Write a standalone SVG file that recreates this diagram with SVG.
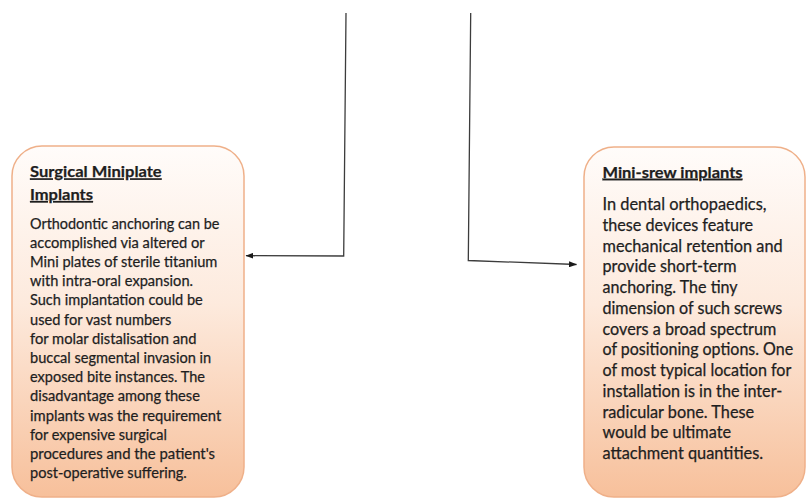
<svg xmlns="http://www.w3.org/2000/svg" width="806" height="500" viewBox="0 0 806 500">
<defs>
<linearGradient id="peach" x1="0" y1="0" x2="0" y2="1">
<stop offset="0" stop-color="#fffcfa"/>
<stop offset="0.45" stop-color="#fdeadd"/>
<stop offset="1" stop-color="#f7c09b"/>
</linearGradient>
<marker id="arrow" markerWidth="8" markerHeight="6" refX="7.5" refY="3" orient="auto" markerUnits="userSpaceOnUse">
<path d="M0,0 L8,3 L0,6 z" fill="#1a1a1a"/>
</marker>
<style>
.box{fill:url(#peach);stroke:#efb089;stroke-width:1.5}
.t{font-family:Lato,"Liberation Sans",sans-serif;fill:#1e1e1e;stroke:#1e1e1e;stroke-width:0.25}
.title{font-size:15.8px;font-weight:bold;text-decoration:underline}
.bl{font-size:14.8px}
.br{font-size:16.4px}
.conn{fill:none;stroke:#3c3c3c;stroke-width:1.3}
</style>
</defs>
<g id="connectors">
<path class="conn" d="M346,13 L343.7,256 L246,255.7" marker-end="url(#arrow)"/>
<path class="conn" d="M470.7,13 L468.3,260.5 L576.5,264.5" marker-end="url(#arrow)"/>
</g>
<g id="surgical-miniplate">
<rect class="box" x="12" y="146" width="232" height="351" rx="30" ry="30"/>
<g class="t">
<text class="title" x="30" y="177.3" textLength="131.7" lengthAdjust="spacingAndGlyphs">Surgical Miniplate</text>
<text class="title" x="30" y="200" textLength="63" lengthAdjust="spacingAndGlyphs">Implants</text>
<text class="bl" x="30" y="228.5" textLength="189.4" lengthAdjust="spacingAndGlyphs">Orthodontic anchoring can be</text>
<text class="bl" x="30" y="247.7" textLength="174.7" lengthAdjust="spacingAndGlyphs">accomplished via altered or</text>
<text class="bl" x="30" y="266.9" textLength="187.4" lengthAdjust="spacingAndGlyphs">Mini plates of sterile titanium</text>
<text class="bl" x="30" y="286.1" textLength="163" lengthAdjust="spacingAndGlyphs">with intra-oral expansion.</text>
<text class="bl" x="30" y="305.3" textLength="172.8" lengthAdjust="spacingAndGlyphs">Such implantation could be</text>
<text class="bl" x="30" y="324.5" textLength="141.4" lengthAdjust="spacingAndGlyphs">used for vast numbers</text>
<text class="bl" x="30" y="343.7" textLength="166.5" lengthAdjust="spacingAndGlyphs">for molar distalisation and</text>
<text class="bl" x="30" y="362.9" textLength="181.2" lengthAdjust="spacingAndGlyphs">buccal segmental invasion in</text>
<text class="bl" x="30" y="382.1" textLength="175" lengthAdjust="spacingAndGlyphs">exposed bite instances. The</text>
<text class="bl" x="30" y="401.3" textLength="169.9" lengthAdjust="spacingAndGlyphs">disadvantage among these</text>
<text class="bl" x="30" y="420.5" textLength="191.3" lengthAdjust="spacingAndGlyphs">implants was the requirement</text>
<text class="bl" x="30" y="439.7" textLength="136.9" lengthAdjust="spacingAndGlyphs">for expensive surgical</text>
<text class="bl" x="30" y="458.9" textLength="185" lengthAdjust="spacingAndGlyphs">procedures and the patient's</text>
<text class="bl" x="30" y="478.1" textLength="156.8" lengthAdjust="spacingAndGlyphs">post-operative suffering.</text>
</g>
</g>
<g id="mini-screw">
<rect class="box" x="584" y="147" width="221" height="350" rx="30" ry="30"/>
<g class="t">
<text class="title" x="602.5" y="177.7" textLength="140" lengthAdjust="spacingAndGlyphs">Mini-srew implants</text>
<text class="br" x="602.5" y="210" textLength="164" lengthAdjust="spacingAndGlyphs">In dental orthopaedics,</text>
<text class="br" x="602.5" y="230.75" textLength="150.6" lengthAdjust="spacingAndGlyphs">these devices feature</text>
<text class="br" x="602.5" y="251.5" textLength="180.1" lengthAdjust="spacingAndGlyphs">mechanical retention and</text>
<text class="br" x="602.5" y="272.25" textLength="134" lengthAdjust="spacingAndGlyphs">provide short-term</text>
<text class="br" x="602.5" y="293" textLength="135.1" lengthAdjust="spacingAndGlyphs">anchoring. The tiny</text>
<text class="br" x="602.5" y="313.75" textLength="179.7" lengthAdjust="spacingAndGlyphs">dimension of such screws</text>
<text class="br" x="602.5" y="334.5" textLength="173.8" lengthAdjust="spacingAndGlyphs">covers a broad spectrum</text>
<text class="br" x="602.5" y="355.25" textLength="190.6" lengthAdjust="spacingAndGlyphs">of positioning options. One</text>
<text class="br" x="602.5" y="376" textLength="188.8" lengthAdjust="spacingAndGlyphs">of most typical location for</text>
<text class="br" x="602.5" y="396.75" textLength="179.7" lengthAdjust="spacingAndGlyphs">installation is in the inter-</text>
<text class="br" x="602.5" y="417.5" textLength="151.6" lengthAdjust="spacingAndGlyphs">radicular bone. These</text>
<text class="br" x="602.5" y="438.25" textLength="128.5" lengthAdjust="spacingAndGlyphs">would be ultimate</text>
<text class="br" x="602.5" y="459" textLength="160.6" lengthAdjust="spacingAndGlyphs">attachment quantities.</text>
</g>
</g>
</svg>
